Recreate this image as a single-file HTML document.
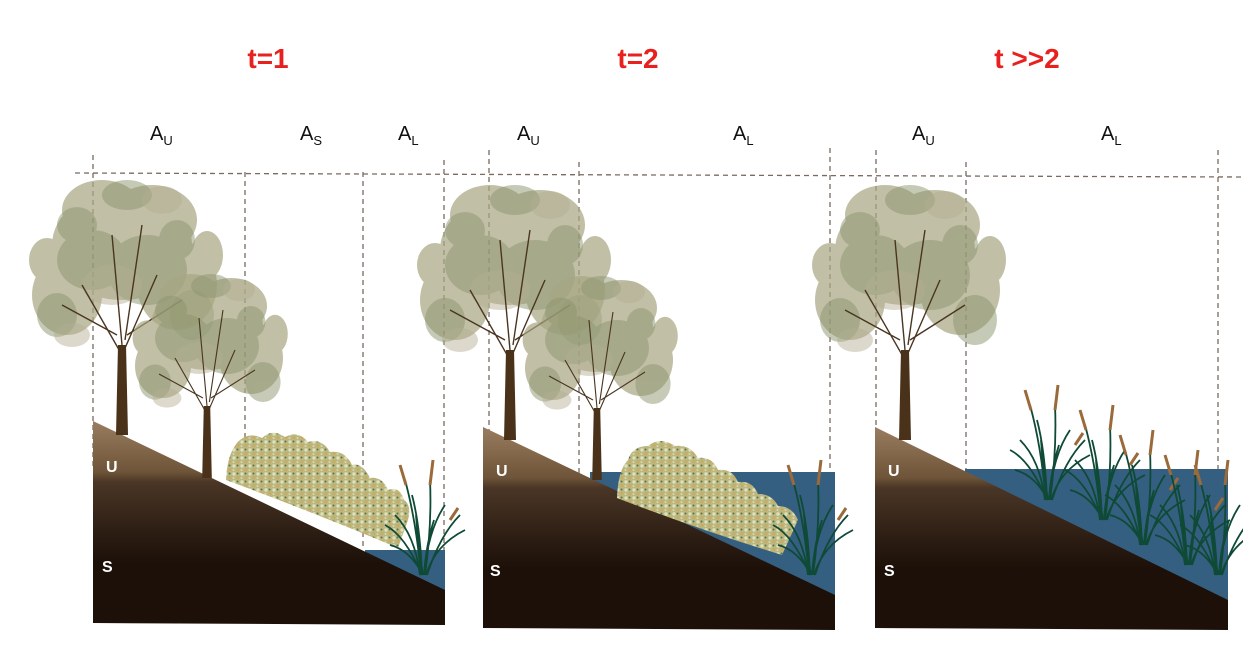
<!DOCTYPE html>
<html><head><meta charset="utf-8"><style>
html,body{margin:0;padding:0;background:#fff;}
svg{display:block}
</style></head><body>
<svg width="1243" height="666" viewBox="0 0 1243 666" xmlns="http://www.w3.org/2000/svg">
<defs>
<linearGradient id="soil" x1="0" y1="0" x2="0" y2="1">
<stop offset="0" stop-color="#9a7d60"/>
<stop offset="0.25" stop-color="#6e5438"/>
<stop offset="0.3" stop-color="#4a3626"/>
<stop offset="0.55" stop-color="#2c1d13"/>
<stop offset="0.7" stop-color="#1c1008"/>
<stop offset="1" stop-color="#1c1008"/>
</linearGradient>
<pattern id="flw" width="8" height="8" patternUnits="userSpaceOnUse">
<rect width="8" height="8" fill="#b9b884"/>
<circle cx="2" cy="2" r="1.7" fill="#e2dfb2"/>
<circle cx="6" cy="5.5" r="1.3" fill="#d6a64c"/>
<circle cx="5.5" cy="1.5" r="1" fill="#55754a"/>
<circle cx="1.5" cy="6" r="1" fill="#dcd9a8"/>
</pattern>
<g id="tree">
<g fill="#a7a682" opacity="0.7">
<ellipse cx="0" cy="-190" rx="70" ry="55"/>
<ellipse cx="-55" cy="-140" rx="35" ry="40"/>
<ellipse cx="55" cy="-150" rx="40" ry="45"/>
<ellipse cx="-20" cy="-225" rx="40" ry="30"/>
<ellipse cx="30" cy="-215" rx="45" ry="35"/>
<ellipse cx="-75" cy="-175" rx="18" ry="22"/>
<ellipse cx="85" cy="-180" rx="16" ry="24"/>
</g>
<g fill="#8d9670" opacity="0.5">
<ellipse cx="-30" cy="-175" rx="35" ry="30"/>
<ellipse cx="25" cy="-165" rx="40" ry="35"/>
<ellipse cx="-65" cy="-120" rx="20" ry="22"/>
<ellipse cx="70" cy="-120" rx="22" ry="25"/>
<ellipse cx="5" cy="-240" rx="25" ry="15"/>
<ellipse cx="-45" cy="-210" rx="20" ry="18"/>
<ellipse cx="55" cy="-195" rx="18" ry="20"/>
</g>
<g fill="#b3ad90" opacity="0.45">
<ellipse cx="-10" cy="-150" rx="30" ry="20"/>
<ellipse cx="40" cy="-235" rx="20" ry="14"/>
<ellipse cx="-50" cy="-100" rx="18" ry="12"/>
</g>
<g stroke="#4a3520" fill="none" stroke-width="1.4">
<path d="M0 -80 L-40 -150 M0 -80 L35 -160 M-5 -100 L-60 -130 M5 -100 L60 -135 M0 -90 L-10 -200 M3 -95 L20 -210"/>
</g>
<path d="M-6 0 L-4 -90 L4 -90 L6 0 Z" fill="#4a321a"/>
</g>
<g id="reed" stroke="#0e4a35" stroke-width="1.8" fill="none">
<path d="M0 0 Q-5 -40 -25 -60 M2 0 Q0 -50 -8 -80 M4 0 Q8 -45 25 -70 M6 0 Q15 -30 45 -45 M3 0 Q-10 -25 -30 -30 M5 0 Q12 -50 10 -95 M1 0 Q-4 -55 -15 -95 M7 0 Q20 -40 40 -60 M3 0 Q-2 -30 -4 -60 M4 0 Q6 -30 14 -55 M2 0 Q-15 -40 -35 -50"/>
<path d="M-14 -90 l-6 -20 M10 -90 l3 -25 M30 -55 l8 -12" stroke="#9b6a3a" stroke-width="3"/>
</g>
</defs>

<g font-family="Liberation Sans, sans-serif" font-weight="bold" font-size="28" fill="#e8211f" text-anchor="middle">
<text x="268" y="68">t=1</text>
<text x="638" y="68">t=2</text>
<text x="1027" y="68">t &gt;&gt;2</text>
</g>
<g font-family="Liberation Sans, sans-serif" font-size="20" fill="#111">
<text x="150" y="140">A<tspan font-size="13" dy="5">U</tspan></text>
<text x="300" y="140">A<tspan font-size="13" dy="5">S</tspan></text>
<text x="398" y="140">A<tspan font-size="13" dy="5">L</tspan></text>
<text x="517" y="140">A<tspan font-size="13" dy="5">U</tspan></text>
<text x="733" y="140">A<tspan font-size="13" dy="5">L</tspan></text>
<text x="912" y="140">A<tspan font-size="13" dy="5">U</tspan></text>
<text x="1101" y="140">A<tspan font-size="13" dy="5">L</tspan></text>
</g>

<g stroke="#7a6a60" stroke-width="1.3" stroke-dasharray="5,4" fill="none">
<path d="M75 173 L1243 177"/>
<path d="M93 155 V470 M245 172 V480 M363 172 V550 M444 160 V550"/>
<path d="M489 150 V470 M579 162 V480 M830 148 V480"/>
<path d="M876 150 V470 M966 162 V500 M1218 150 V470"/>
</g>

<!-- panel 1 -->
<rect x="365" y="550" width="80" height="40" fill="#355f80"/>
<path d="M93 421 L445 590 L445 625 L93 623 Z" fill="url(#soil)"/>
<use href="#tree" transform="translate(122,435)"/>
<use href="#tree" transform="translate(207,478) scale(0.8)"/>
<path fill="url(#flw)" d="M226 478 Q228 450 240 440 Q250 432 262 438 Q272 428 285 437 Q298 430 308 442 Q322 438 330 452 Q345 450 352 465 Q362 462 370 478 Q382 476 388 490 Q400 486 404 500 Q412 505 408 520 L398 548 Q320 515 226 480Z"/>
<use href="#reed" transform="translate(420,575)"/>
<!-- panel 2 -->
<rect x="590" y="472" width="245" height="123" fill="#355f80"/>
<path d="M483 427 L835 595 L835 630 L483 628 Z" fill="url(#soil)"/>
<use href="#tree" transform="translate(510,440)"/>
<use href="#tree" transform="translate(597,480) scale(0.8)"/>
<path fill="url(#flw)" d="M617 498 Q618 470 628 460 Q632 446 648 446 Q660 436 675 446 Q690 444 698 458 Q712 456 718 470 Q732 468 738 482 Q752 480 758 494 Q772 494 778 506 Q792 506 798 520 L782 555 Q700 530 617 498Z"/>
<use href="#reed" transform="translate(808,575)"/>
<!-- panel 3 -->
<rect x="965" y="469" width="263" height="131" fill="#355f80"/>
<path d="M875 427 L1228 600 L1228 630 L875 628 Z" fill="url(#soil)"/>
<use href="#tree" transform="translate(905,440)"/>
<use href="#reed" transform="translate(1045,500)"/>
<use href="#reed" transform="translate(1100,520)"/>
<use href="#reed" transform="translate(1140,545)"/>
<use href="#reed" transform="translate(1185,565)"/>
<use href="#reed" transform="translate(1215,575)"/>

<g font-family="Liberation Sans, sans-serif" font-weight="bold" font-size="16" fill="#fff">
<text x="106" y="472">U</text><text x="102" y="572">S</text>
<text x="496" y="476">U</text><text x="490" y="576">S</text>
<text x="888" y="476">U</text><text x="884" y="576">S</text>
</g>
</svg>
</body></html>
